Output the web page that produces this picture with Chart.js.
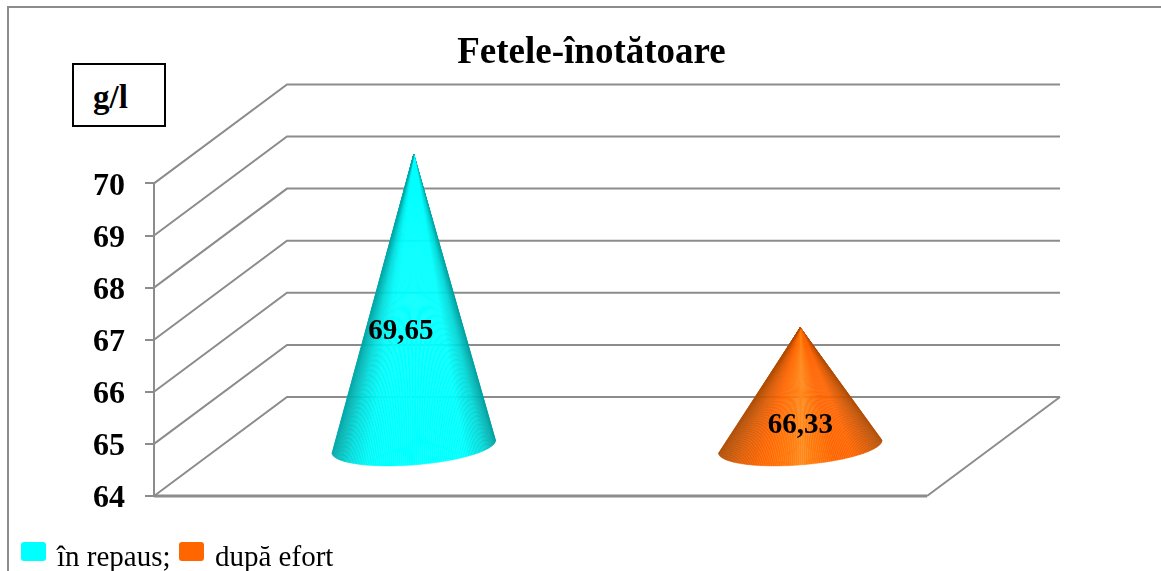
<!DOCTYPE html>
<html lang="ro"><head><meta charset="utf-8">
<script src="https://cdn.jsdelivr.net/npm/chart.js@4/dist/chart.umd.min.js"></script>
<style>
html,body{margin:0;padding:0;background:#fff;width:1161px;height:571px;overflow:hidden;font-family:"Liberation Serif",serif}
#wrap{position:relative;width:1161px;height:571px;overflow:hidden}
canvas{position:absolute;left:0;top:0}
.frameT{position:absolute;left:7px;top:6px;width:1154px;height:2px;background:#8c8c8c}
.frameL{position:absolute;left:7px;top:6px;width:2px;height:565px;background:#8c8c8c}
#unit{position:absolute;left:72px;top:63px;width:90px;height:60px;border:2px solid #000;font:bold 33px "Liberation Serif",serif;line-height:60px;background:#fff}
#unit span{position:absolute;left:19px;top:2px}
.sw{position:absolute;top:542px;width:25px;height:19px;border-radius:3px}
.lt{position:absolute;top:538px;font:29px/36px "Liberation Serif",serif;color:#000;white-space:nowrap}
</style></head><body>
<div id="wrap"><canvas id="c" width="1161" height="571"></canvas>
<div class="frameT"></div><div class="frameL"></div>
<div id="unit"><span>g/l</span></div>
<div id="legend"></div></div>
<script>
const categories = ["în repaus", "după efort"];
const values = [69.65, 66.33];
const valueLabels = ["69,65", "66,33"];
const yTicks = [64, 65, 66, 67, 68, 69, 70];
const titleText = "Fetele-înotătoare";
const baseColors = ["#00ffff", "#ff6600"];

const GRID = "#8c8c8c", DEPTH_X = 133, DEPTH_Y = 99;
const APEX_LIFT = 47, BASE_LIFT = 49.5, TILT = -4.56 * Math.PI / 180, MINOR = 18.4;
const LABEL_SHIFT = [[-13, -17.6], [0, -10]];
const SHADES = [
  [[0,"#00a8a8"],[.1,"#00dcdc"],[.2,"#00f8f8"],[.3,"#00ffff"],[.8,"#00ffff"],[.92,"#00d8d8"],[1,"#00a0a0"]],
  [[0,"#b04c00"],[.12,"#e05c00"],[.25,"#ff6600"],[.42,"#ff7a0c"],[.5,"#ff8a1c"],[.57,"#ff7a0c"],[.7,"#ff6600"],[.82,"#ff6600"],[.92,"#d85800"],[1,"#b04c00"]]
];
function shade(stops, s){
  for(let i=1;i<stops.length;i++){
    if(s<=stops[i][0]){
      const [a,ca]=stops[i-1],[b,cb]=stops[i],k=(s-a)/(b-a);
      const h=c=>[1,3,5].map(p=>parseInt(c.substr(p,2),16));
      const A=h(ca),B=h(cb);
      return `rgb(${A.map((v,j)=>Math.round(v+(B[j]-v)*k)).join(",")})`;
    }
  }
  return stops[stops.length-1][1];
}

class ConeController extends Chart.BarController {
  draw(){
    const ctx=this.chart.ctx, meta=this._cachedMeta, N=120;
    const yBase=this.chart.scales.y.getPixelForValue(yTicks[0]);
    meta.data.forEach((bar,i)=>{
      const ax=bar.x+DEPTH_X/2, ay=bar.y-APEX_LIFT, cy=yBase-BASE_LIFT, a=bar.width/2;
      const P=t=>[ax+a*Math.cos(t)*Math.cos(TILT)-MINOR*Math.sin(t)*Math.sin(TILT),
                  cy+a*Math.cos(t)*Math.sin(TILT)+MINOR*Math.sin(t)*Math.cos(TILT)];
      ctx.save();
      for(let k=0;k<N;k++){
        const t0=Math.PI*k/N,t1=Math.PI*(k+1)/N,p0=P(t0),p1=P(t1);
        const col=shade(SHADES[i],(1+Math.cos((t0+t1)/2))/2);
        ctx.fillStyle=col;ctx.strokeStyle=col;ctx.lineWidth=.4;
        ctx.beginPath();ctx.moveTo(ax,ay);ctx.lineTo(p0[0],p0[1]);ctx.lineTo(p1[0],p1[1]);ctx.closePath();
        ctx.fill();ctx.stroke();
      }
      ctx.restore();
    });
    ctx.save();
    ctx.fillStyle="#000";ctx.font='bold 29px "Liberation Serif"';ctx.textAlign="center";ctx.textBaseline="middle";
    meta.data.forEach((bar,i)=>{
      ctx.fillText(valueLabels[i],bar.x+DEPTH_X/2+LABEL_SHIFT[i][0],(bar.y+yBase)/2+LABEL_SHIFT[i][1]);
    });
    ctx.restore();
  }
}
ConeController.id="cone";
ConeController.defaults=Chart.BarController.defaults;
ConeController.overrides=Chart.BarController.overrides;
Chart.register(ConeController);

const walls={id:"walls",
 afterLayout(chart){ chart.titleBlock.right=chart.width; },
 beforeDraw(chart){
  const y=chart.scales.y;
  if(!y._shifted){ y.getLabelItems(chart.chartArea).forEach(it=>{it.options.translation[1]+=3}); y._shifted=true; }
 },
 beforeDatasetsDraw(chart){
  const {ctx,scales:{x,y}}=chart, L=x.left, R=x.right;
  ctx.save();ctx.strokeStyle=GRID;ctx.lineJoin="miter";
  yTicks.forEach(v=>{
    const p=y.getPixelForValue(v);
    ctx.lineWidth=2;
    ctx.beginPath();ctx.moveTo(L,p);ctx.lineTo(L+DEPTH_X,p-DEPTH_Y);ctx.lineTo(R+DEPTH_X,p-DEPTH_Y);ctx.stroke();
  });
  const b=y.getPixelForValue(yTicks[0]);
  ctx.lineWidth=2;
  ctx.beginPath();ctx.moveTo(R+DEPTH_X,b-DEPTH_Y);ctx.lineTo(R,b);ctx.stroke();
  ctx.lineWidth=3;
  ctx.beginPath();ctx.moveTo(L,b);ctx.lineTo(R,b);ctx.stroke();
  ctx.restore();
}};

new Chart(document.getElementById("c"),{
  type:"cone",
  data:{labels:categories,datasets:[{data:values,backgroundColor:baseColors,categoryPercentage:1,barPercentage:.424,clip:false}]},
  plugins:[walls],
  options:{
    responsive:false,animation:false,
    layout:{padding:{left:22,right:234,top:0,bottom:75}},
    plugins:{
      legend:{display:false},tooltip:{enabled:false},
      title:{display:true,text:titleText,color:"#000",font:{family:"Liberation Serif",size:37,weight:"bold",lineHeight:1.2},padding:{top:31,bottom:108}}
    },
    scales:{
      x:{display:false,offset:true,grid:{display:false}},
      y:{min:64,max:70,
        afterFit(s){s.width=132},
        border:{display:true,color:GRID,width:2},
        grid:{drawOnChartArea:false,color:GRID,lineWidth:2,tickLength:9},
        ticks:{stepSize:1,padding:20,color:"#000",font:{family:"Liberation Serif",size:32,weight:"bold"}}
      }
    }
  }
});

const lg=document.getElementById("legend");
const swX=[21,179],txX=[57,215],sep=[";",""];
categories.forEach((c,i)=>{
  const s=document.createElement("div");s.className="sw";s.style.left=swX[i]+"px";s.style.background=baseColors[i];lg.appendChild(s);
  const t=document.createElement("div");t.className="lt";t.style.left=txX[i]+"px";t.textContent=c+sep[i];lg.appendChild(t);
});
</script></body></html>
